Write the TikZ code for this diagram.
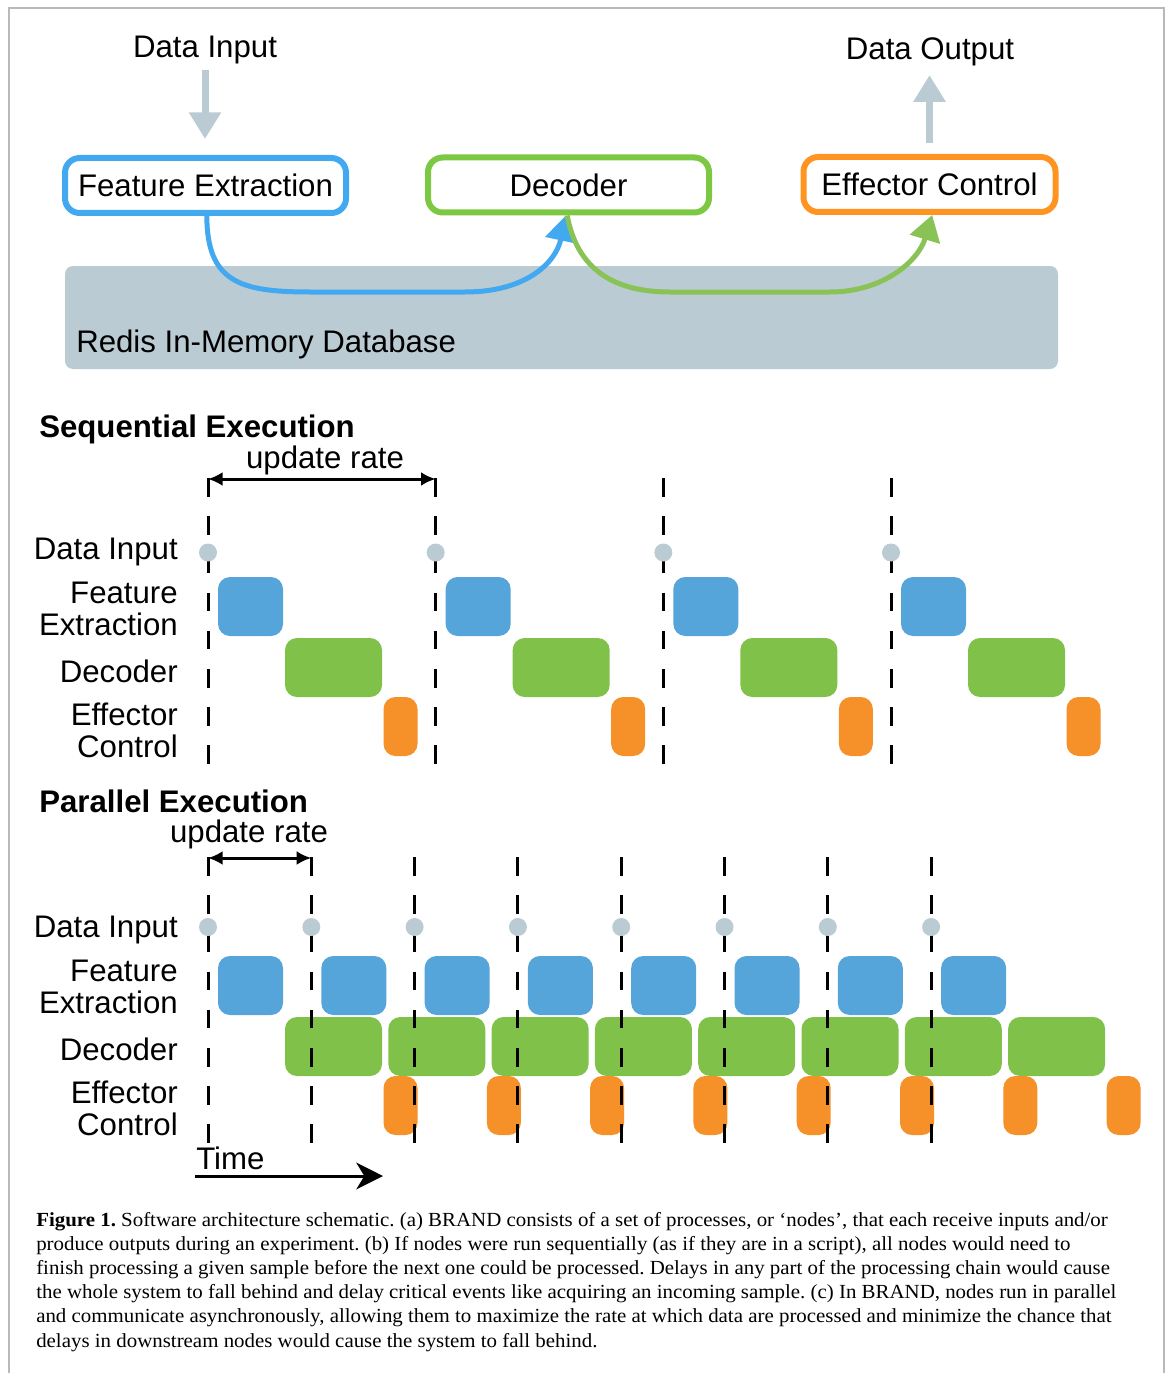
\documentclass[tikz,border=0pt]{standalone}
\usepackage{fontspec}
\setmainfont{Liberation Sans}
\newfontfamily\capfont[FakeStretch=1.045]{Liberation Serif}
\usetikzlibrary{arrows.meta}
\definecolor{feblue}{RGB}{66,169,241}
\definecolor{decgreen}{RGB}{125,200,66}
\definecolor{effor}{RGB}{255,148,32}
\definecolor{dbgray}{RGB}{186,203,212}
\definecolor{tblue}{RGB}{85,164,218}
\definecolor{tgreen}{RGB}{128,193,74}
\definecolor{tor}{RGB}{245,145,40}
\definecolor{curvegreen}{RGB}{137,195,85}
\definecolor{framegray}{RGB}{185,185,185}
\frenchspacing
\begin{document}
\begin{tikzpicture}[x=0.75pt,y=-0.75pt,
  lbl/.style={font=\fontsize{23.4}{28}\selectfont, inner sep=0pt},
  ttl/.style={font=\fontsize{23.4}{28}\selectfont\bfseries, inner sep=0pt, anchor=base west},
  archbox/.style={lbl, draw, line width=4.5pt, rounded corners=11pt, fill=white, minimum height=41.25pt},
  ioarrow/.style={draw=dbgray, line width=5.25pt, -{Triangle[length=20pt,width=23pt]}},
  flow/.style={line width=3.75pt, -{Triangle[length=19pt,width=23pt]}},
  dashline/.style={line width=2.25pt, dash pattern=on 13.9pt off 14.75pt},
  ratearrow/.style={line width=2.25pt, {Latex[length=11pt,width=10.5pt]}-{Latex[length=11pt,width=10.5pt]}},
  rowlbl/.style={lbl, anchor=base east},
  capstyle/.style={anchor=base west, inner sep=0pt, font=\capfont\fontsize{15}{18}\selectfont},
  tbox/.style={rounded corners=9pt}
]
\useasboundingbox (0,0) rectangle (1171,1373);
% frame
\draw[framegray, line width=1.5pt] (8.5,1373) -- (8.5,8.5) -- (1164,8.5) -- (1164,1373);

% ---------- architecture ----------
\node[fill=dbgray, rounded corners=6pt, minimum width=744.75pt, minimum height=77.25pt, inner sep=0pt] (db) at (561.5,317.5) {};
\node[lbl, anchor=base west] (dblabel) at (76,352) {Redis In-Memory Database};

\node[archbox, draw=feblue, minimum width=210.75pt] (fe) at (205.5,185.5) {Feature Extraction};
\node[archbox, draw=decgreen, minimum width=210.75pt] (dec) at (568.5,185) {Decoder};
\node[archbox, draw=effor, minimum width=189pt] (eff) at (929.5,184.5) {Effector Control};

\node[lbl, anchor=base] (din) at (205,58) {Data Input};
\node[lbl, anchor=base] (dout) at (930,60) {Data Output};

\draw[ioarrow, shorten <=4pt, shorten >=12pt] (din.south) -- (din.south |- fe.north);
\draw[ioarrow, shorten <=7.9pt, shorten >=6.3pt] (eff.north) -- (eff.north |- dout.south);

\draw[flow, color=feblue] ([xshift=1pt]fe.south) .. controls (207,282) and (240,292) .. (310,292) -- (465,292) .. controls (527,292) and (556,262) .. ([xshift=-2pt]dec.south);
\draw[flow, color=curvegreen] ([xshift=-1pt]dec.south) .. controls (577,268) and (612,292) .. (670,292) -- (830,292) .. controls (882,292) and (918,262) .. ([xshift=2pt]eff.south);

% ---------- sequential ----------
\node[ttl] (seqtitle) at (39,437) {Sequential Execution};
\node[lbl, anchor=base] (seqrate) at (325,468) {update rate};
\node[rowlbl] (sdi) at (178,559) {Data Input};
\node[rowlbl] (sfe1) at (178,603) {Feature};
\node[rowlbl] (sfe2) at (178,635) {Extraction};
\node[rowlbl] (sdec) at (178,682) {Decoder};
\node[rowlbl] (sef1) at (178,725) {Effector};
\node[rowlbl] (sef2) at (178,757) {Control};

\foreach \k in {0,1,2,3}{
  \pgfmathsetmacro\xo{208+227.67*\k}
  \fill[tblue, tbox] ({\xo+10},577) rectangle ({\xo+75},636);
  \fill[tgreen, tbox] ({\xo+77},638) rectangle ({\xo+174},697);
  \fill[tor, tbox] ({\xo+175.5},697) rectangle ({\xo+209.5},756);
  \draw[dashline] (\xo,478) -- (\xo,763.5);
  \fill[dbgray] (\xo,552.5) circle[radius=6.75pt];
  \coordinate (sq\k) at (\xo,479);
}
\draw[ratearrow] (sq0) -- (sq1);

% ---------- parallel ----------
\node[ttl] (partitle) at (39,812) {Parallel Execution};
\node[lbl, anchor=base] (parrate) at (249,842) {update rate};
\node[rowlbl] (pdi) at (178,937) {Data Input};
\node[rowlbl] (pfe1) at (178,981) {Feature};
\node[rowlbl] (pfe2) at (178,1013) {Extraction};
\node[rowlbl] (pdec) at (178,1060) {Decoder};
\node[rowlbl] (pef1) at (178,1103) {Effector};
\node[rowlbl] (pef2) at (178,1135) {Control};

\foreach \k in {0,...,7}{
  \pgfmathsetmacro\xo{208+103.3*\k}
  \fill[tblue, tbox] ({\xo+10},956) rectangle ({\xo+75},1015);
  \fill[tgreen, tbox] ({\xo+77},1017) rectangle ({\xo+174},1076);
}
\foreach \k in {0,...,7}{
  \pgfmathsetmacro\xo{208+103.3*\k}
  \fill[tor, tbox] ({\xo+175.5},1076) rectangle ({\xo+209.5},1135);
}
\foreach \k in {0,...,7}{
  \pgfmathsetmacro\xo{208+103.3*\k}
  \draw[dashline] (\xo,857) -- (\xo,1142.5);
  \fill[dbgray] (\xo,927) circle[radius=6.75pt];
  \coordinate (pq\k) at (\xo,858);
}
\draw[ratearrow] (pq0) -- (pq1);

% time axis
\node[lbl, anchor=base west] (timelbl) at (196,1169) {Time};
\coordinate (ts) at (195,1176);
\coordinate (te) at (383,1176);
\draw[line width=2.25pt, -{Stealth[length=20pt,width=20pt,inset=6pt]}] (ts) -- (te);

% ---------- caption ----------
\node[capstyle] (cap1) at (36,1226) {\textbf{Figure 1.} Software architecture schematic. (a) BRAND consists of a set of processes, or ‘nodes’, that each receive inputs and/or};
\node[capstyle] (cap2) at (36,1250.2) {produce outputs during an experiment. (b) If nodes were run sequentially (as if they are in a script), all nodes would need to};
\node[capstyle] (cap3) at (36,1274.4) {finish processing a given sample before the next one could be processed. Delays in any part of the processing chain would cause};
\node[capstyle] (cap4) at (36,1298.6) {the whole system to fall behind and delay critical events like acquiring an incoming sample. (c) In BRAND, nodes run in parallel};
\node[capstyle] (cap5) at (36,1322.8) {and communicate asynchronously, allowing them to maximize the rate at which data are processed and minimize the chance that};
\node[capstyle] (cap6) at (36,1347) {delays in downstream nodes would cause the system to fall behind.};
\end{tikzpicture}
\end{document}
